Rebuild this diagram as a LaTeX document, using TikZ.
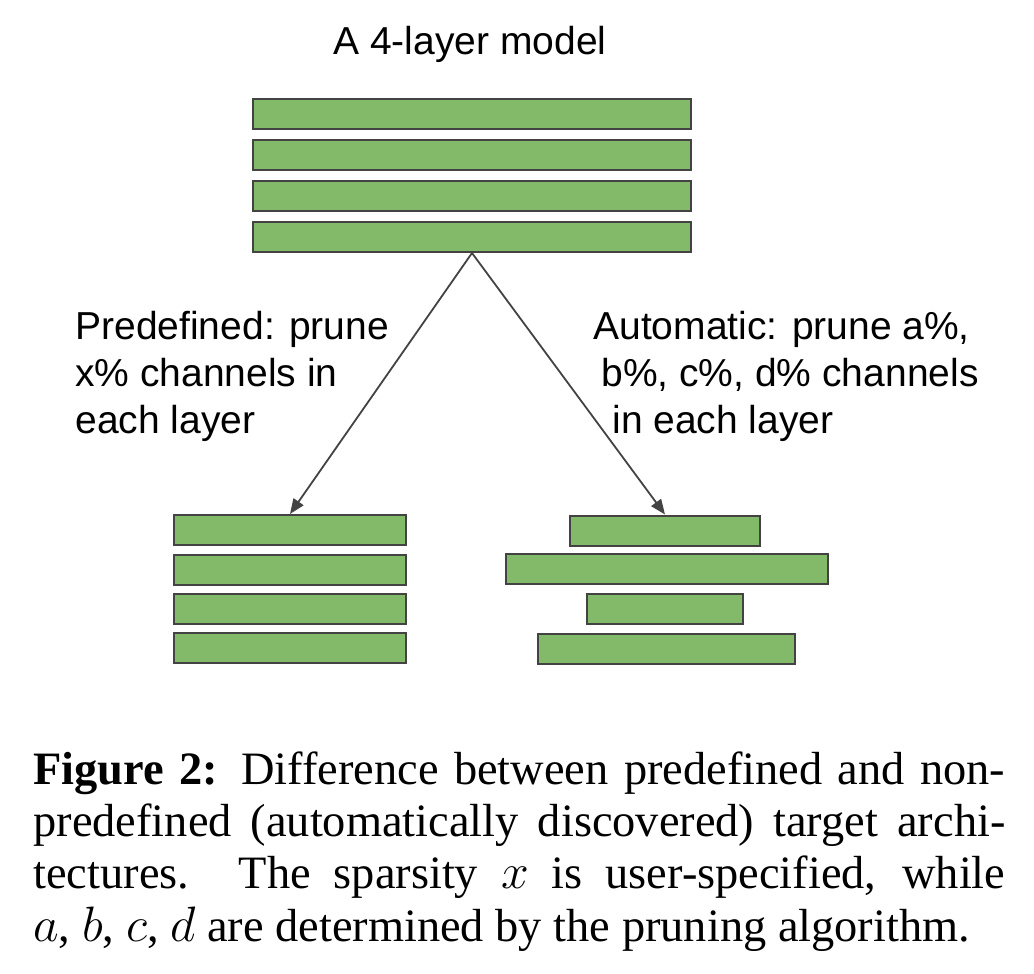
\documentclass[tikz,border=0pt]{standalone}
\usepackage{fontspec}
\setmainfont{Liberation Serif}
\setsansfont{Liberation Sans}
\usetikzlibrary{arrows.meta}
\definecolor{layergreen}{HTML}{82BA6A}
\definecolor{edgegray}{HTML}{434343}

\begin{document}
\begin{tikzpicture}[x=0.5pt,y=-0.5pt,
  layer/.style={draw=edgegray,fill=layergreen,line width=1pt,minimum height=15pt,inner sep=0pt},
  note/.style={font=\sffamily\fontsize{19.5}{23.5}\selectfont,inner sep=0pt,align=left,anchor=north west},
  prune/.style={draw=edgegray,line width=0.9pt,-{Triangle[length=7.5pt,width=6pt]}}]
\useasboundingbox (0,0) rectangle (1034,974);
% original model
\node[font=\sffamily\fontsize{19.5}{23.5}\selectfont,inner sep=0pt,anchor=base] (title) at (470,55) {A 4-layer model};
\foreach \n/\y in {1/114,2/155,3/196,4/237}
  \node[layer,minimum width=219pt] (t\n) at (472,\y) {};
% predefined target
\foreach \n/\y in {1/530,2/569.5,3/609,4/648}
  \node[layer,minimum width=116pt] (p\n) at (290,\y) {};
% automatic target
\node[layer,minimum width=95pt] (q1) at (665,530.5) {};
\node[layer,minimum width=161pt] (q2) at (667,568.5) {};
\node[layer,minimum width=78pt] (q3) at (665,608.5) {};
\node[layer,minimum width=128.5pt] (q4) at (666.5,648.5) {};
\draw[prune] (t4.south) -- (p1.north);
\draw[prune] (t4.south) -- (q1.north);
\node[note] (predef) at (75,311) {Predefined: prune\\x\% channels in\\each layer};
\node[note] (auto) at (593,311) {Automatic: prune a\%,\\\hspace*{4pt}b\%, c\%, d\% channels\\\hspace*{9.5pt}in each layer};
% caption
\node[anchor=north west,inner sep=0pt,text width=486pt,align=justify,font=\fontsize{23.2}{26.2}\selectfont] (cap) at (33,751)
  {\noindent\textbf{Figure 2:} Difference between predefined and non-\linebreak
  predefined (automatically discovered) target archi-\linebreak
  tectures. The sparsity $x$ is user-specified, while\linebreak
  $a$, $b$, $c$, $d$ are determined by the pruning algorithm.};
\end{tikzpicture}
\end{document}
